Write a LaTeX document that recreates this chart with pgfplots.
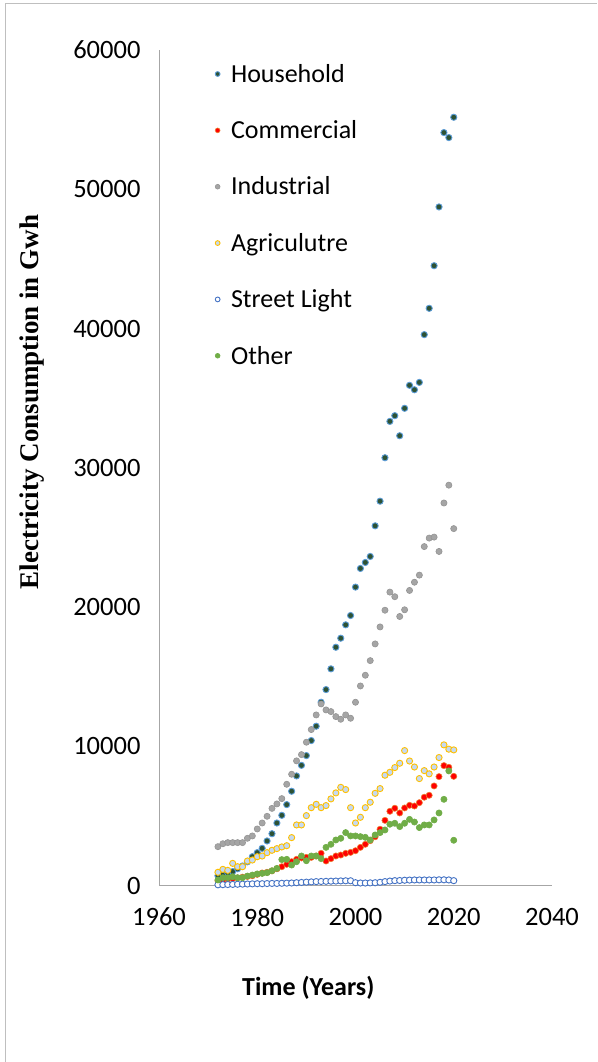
\documentclass[border=0pt]{standalone}
\usepackage{pgfplots}
\pgfplotsset{compat=1.18}
\usepackage{pgfplotstable}
\usepackage{fontspec}
\setmainfont{Carlito}
\newfontfamily\timesfont{Liberation Serif}
\definecolor{hhfill}{HTML}{2D5234}
\definecolor{hhedge}{HTML}{5B9BD5}
\definecolor{comfill}{HTML}{FF0000}
\definecolor{comedge}{HTML}{ED7D31}
\definecolor{indc}{HTML}{A5A5A5}
\definecolor{agrfill}{HTML}{C5D9F1}
\definecolor{agredge}{HTML}{FFC000}
\definecolor{sledge}{HTML}{4472C4}
\definecolor{othc}{HTML}{70AD47}
\definecolor{axisgray}{HTML}{A6A6A6}
\definecolor{framegray}{HTML}{BFBFBF}

\pgfplotstableread{
year hh com ind agr sl oth
1972 700 350 2790 950 50 400
1973 800 400 3000 1160 60 560
1974 900 450 3080 1090 70 560
1975 1000 500 3080 1590 80 630
1976 1200 550 3080 1350 90 560
1977 1400 600 3080 1350 100 560
1978 1700 650 3390 1760 110 680
1979 2070 700 3560 1830 120 750
1980 2360 800 4060 2070 130 830
1981 2670 900 4490 2120 130 870
1982 3200 950 4970 2360 140 920
1983 3720 1050 5540 2530 150 1060
1984 4490 1200 5860 2650 150 1230
1985 5040 1350 6240 2770 160 1860
1986 5810 1520 7270 2860 170 1880
1987 6770 1710 7990 3440 180 1470
1988 7870 1880 8950 4350 200 1710
1989 8630 1980 9400 4350 220 2120
1990 9330 2020 10290 5020 240 1780
1991 10410 2020 11200 5590 260 2120
1992 11440 2120 12250 5830 280 2120
1993 13160 2310 13040 5590 290 1930
1994 14070 1760 12610 5740 300 2740
1995 15560 1930 12490 6220 310 2960
1996 17110 2120 12130 6650 320 3270
1997 17760 2190 11940 7050 330 3390
1998 18720 2310 12250 6890 340 3800
1999 19390 2380 12010 5590 340 3560
2000 21430 2500 13160 4490 200 3560
2001 22770 2740 14330 4900 180 3510
2002 23200 2960 15100 5590 180 3460
2003 23630 3220 16150 5980 190 3270
2004 25830 3500 17350 6620 200 3630
2005 27600 4040 18570 6960 230 3800
2006 30720 4680 19770 7920 280 3990
2007 33330 5330 21070 8130 320 4400
2008 33740 5550 20740 8470 350 4470
2009 32300 5210 19320 8780 360 4230
2010 34270 5570 19800 9690 380 4470
2011 35920 5760 21190 8940 390 4750
2012 35600 5710 21780 8510 400 4560
2013 36130 5950 22290 7680 400 4160
2014 39560 6340 24340 8250 400 4350
2015 41450 6480 24950 8020 400 4350
2016 44510 7150 25020 8510 400 4710
2017 48730 7820 23990 9190 410 5210
2018 54070 8610 27470 10100 410 6190
2019 53710 8490 28750 9790 400 8230
2020 55170 7840 25630 9740 350 3250
}\datatable

\begin{document}
\begin{tikzpicture}[x=1pt,y=1pt]
\useasboundingbox (0,0) rectangle (597,-1062);
\draw[framegray, line width=0.8pt] (5,-1062) -- (5,-3) -- (597,-3);
\begin{axis}[
  at={(159pt,-885.5pt)}, anchor=south west,
  scale only axis, width=393pt, height=835.5pt,
  xmin=1960, xmax=2040, ymin=0, ymax=60000,
  xtick={1960,1980,2000,2020,2040},
  ytick={0,10000,20000,30000,40000,50000,60000},
  axis x line=bottom, axis y line=left,
  axis line style={draw=axisgray, line width=0.9pt, -},
  major tick length=0pt,
  scaled y ticks=false, scaled x ticks=false,
  /pgf/number format/1000 sep={},
  /pgf/number format/assume math mode=true,
  tick label style={font=\fontsize{26.5}{30}\selectfont},
  yticklabel style={xshift=-15pt},
  xticklabel style={yshift=-19pt},
  xlabel={\bfseries Time (Years)},
  xlabel style={at={(axis description cs:0.380,-0.1227)}, anchor=center, font=\fontsize{26}{30}\selectfont},
  ylabel={\timesfont\bfseries Electricity Consumption in Gwh},
  ylabel style={at={(axis description cs:-0.323,0.5787)}, anchor=center, font=\fontsize{27}{30}\selectfont},
  legend style={draw=none, fill=none, at={(rel axis cs:0.135,0.988)}, anchor=north west,
    font=\fontsize{26}{30}\selectfont, row sep=32.8pt,
    /tikz/every odd column/.append style={column sep=9pt}},
  legend cell align=left,
  legend image post style={mark size=2.4pt},
]
\addplot[only marks, mark=*, mark size=3.1pt, draw=hhedge, fill=hhfill, line width=0.9pt] table[x=year,y=hh] {\datatable};
\addlegendentry{Household}
\addplot[only marks, mark=*, mark size=3.1pt, draw=comedge, fill=comfill, line width=0.6pt] table[x=year,y=com] {\datatable};
\addlegendentry{Commercial}
\addplot[only marks, mark=*, mark size=3.1pt, draw=indc!90!black, fill=indc, line width=0.6pt] table[x=year,y=ind] {\datatable};
\addlegendentry{Industrial}
\addplot[only marks, mark=*, mark size=3.1pt, draw=agredge, fill=agrfill, line width=0.9pt] table[x=year,y=agr] {\datatable};
\addlegendentry{Agriculutre}
\addplot[only marks, mark=*, mark size=3.1pt, draw=sledge, fill=white, line width=0.9pt] table[x=year,y=sl] {\datatable};
\addlegendentry{Street Light}
\addplot[only marks, mark=*, mark size=3.1pt, draw=othc, fill=othc, line width=0.6pt] table[x=year,y=oth] {\datatable};
\addlegendentry{Other}
\end{axis}
\end{tikzpicture}
\end{document}
